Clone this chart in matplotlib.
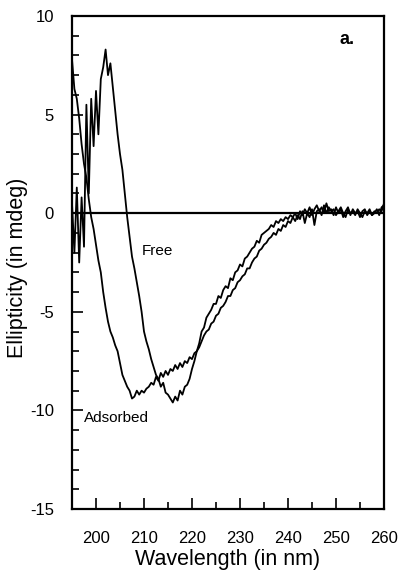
import numpy as np
import matplotlib
matplotlib.use("Agg")
import matplotlib.pyplot as plt
from matplotlib.ticker import MultipleLocator

plt.rcParams['font.family'] = ['Liberation Sans', 'DejaVu Sans']
plt.rcParams['axes.unicode_minus'] = False

wavelength = np.arange(195.0, 260.01, 0.5)

free = [
    0.5, -2.0, 1.3, -2.5, 0.8, -1.7, 5.5, 1.0, 5.8, 3.4,
    6.2, 4.0, 6.8, 7.4, 8.3, 7.0, 7.6, 6.4, 5.2, 4.0,
    3.0, 2.2, 1.0, -0.2, -1.2, -2.2, -2.8, -3.5, -4.2, -5.0,
    -6.0, -6.5, -6.9, -7.4, -7.8, -8.2, -8.4, -8.8, -8.6, -9.1,
    -9.2, -9.4, -9.6, -9.3, -9.5, -9.0, -9.2, -8.8, -8.7, -8.4,
    -7.9, -7.5, -7.0, -6.6, -6.0, -5.8, -5.3, -5.1, -4.9, -4.6,
    -4.6, -4.2, -4.3, -3.9, -3.7, -3.8, -3.3, -3.4, -3.0, -2.9,
    -2.6, -2.7, -2.3, -2.2, -2.0, -1.8, -1.7, -1.4, -1.5, -1.1,
    -1.0, -0.9, -0.8, -0.6, -0.7, -0.4, -0.5, -0.3, -0.4, -0.2,
    -0.3, -0.1, -0.2, 0.0, -0.3, 0.1, -0.1, 0.2, 0.0, 0.3,
    -0.1, 0.2, 0.4, 0.1, 0.3, 0.0, 0.5, 0.1, 0.2, -0.1,
    0.3, 0.0, 0.2, -0.2, 0.1, 0.3, -0.1, 0.2, 0.0, 0.1,
    -0.2, 0.1, 0.2, -0.1, 0.1, -0.1, 0.0, 0.2, -0.1, 0.3,
    0.4,
]

adsorbed = [
    7.8, 6.3, 5.8, 4.8, 3.5, 2.5, 1.8, 0.7, -0.2, -0.8,
    -1.6, -2.4, -3.0, -4.0, -4.8, -5.5, -6.0, -6.3, -6.7, -7.0,
    -7.6, -8.2, -8.5, -8.8, -9.0, -9.4, -9.3, -9.0, -9.2, -9.0,
    -9.1, -8.9, -8.8, -8.6, -8.7, -8.3, -8.5, -8.1, -8.3, -8.0,
    -8.2, -7.9, -8.0, -7.7, -7.9, -7.6, -7.8, -7.5, -7.6, -7.3,
    -7.4, -7.1, -7.0, -6.8, -6.5, -6.2, -6.0, -5.9, -5.6, -5.5,
    -5.2, -5.1, -4.8, -4.7, -4.5, -4.2, -4.2, -3.9, -3.8, -3.5,
    -3.4, -3.2, -3.1, -2.8, -2.8, -2.5, -2.3, -2.2, -1.9, -1.8,
    -1.6, -1.5, -1.3, -1.2, -1.0, -1.1, -0.8, -0.9, -0.6, -0.7,
    -0.4, -0.5, -0.2, -0.4, -0.1, -0.3, 0.1, -0.5, 0.0, -0.2,
    0.2, -0.6, 0.1, 0.2, -0.1, 0.4, 0.0, 0.3, 0.1, 0.2,
    -0.1, 0.1, 0.3, 0.0, -0.2, 0.2, 0.0, 0.1, -0.1, 0.2,
    0.0, -0.2, 0.1, 0.0, 0.2, -0.1, 0.1, 0.0, 0.2, 0.1,
    0.5,
]

x_ticks = [200, 210, 220, 230, 240, 250, 260]
y_ticks = [-15, -10, -5, 0, 5, 10]

fig = plt.figure(figsize=(4.0, 5.75), dpi=100)
ax = fig.add_axes([0.18, 0.1148, 0.78, 0.8574])

ax.plot(wavelength, free, color='black', lw=1.3)
ax.plot(wavelength, adsorbed, color='black', lw=1.3)
ax.axhline(0, color='black', lw=1.6)

ax.set_xlim(195, 260)
ax.set_ylim(-15, 10)
ax.set_xticks(x_ticks)
ax.set_yticks(y_ticks)
ax.xaxis.set_minor_locator(MultipleLocator(5))
ax.yaxis.set_minor_locator(MultipleLocator(1))
ax.tick_params(which='both', direction='in', top=False, right=False, width=1.2)
ax.tick_params(which='major', length=8)
ax.tick_params(which='minor', length=5)
ax.tick_params(axis='x', which='major', labelsize=12, pad=16)
ax.tick_params(axis='y', which='major', labelsize=12, pad=13)
for s in ax.spines.values():
    s.set_linewidth(1.6)

ax.set_xlabel('Wavelength (in nm)', fontsize=15.5, labelpad=2)
ax.set_ylabel('Ellipticity (in mdeg)', fontsize=15.5)
ax.yaxis.set_label_coords(-0.141, 0.49)

ax.text(209.6, -1.9, 'Free', fontsize=11, va='center', ha='left')
ax.text(197.4, -10.4, 'Adsorbed', fontsize=11, va='center', ha='left')
ax.text(250.8, 8.8, 'a.', fontsize=13, fontweight='bold', va='center', ha='left')

fig.savefig('out.png', dpi=100)
